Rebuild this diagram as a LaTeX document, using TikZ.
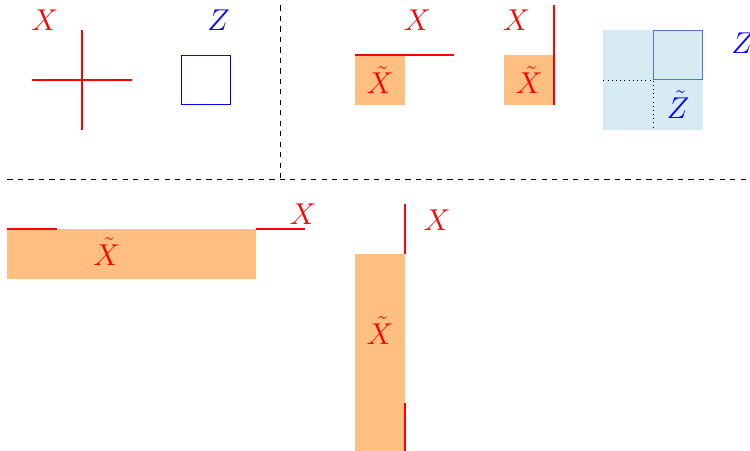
\documentclass[tikz,border=0pt]{standalone}
\usetikzlibrary{calc}
\definecolor{lblue}{RGB}{173,216,230}
\tikzset{lab/.style={font=\fontsize{19}{23}\selectfont},
  rlab/.style={lab, text=red},
  blab/.style={lab, text=blue},
  rline/.style={red, line width=1pt},
  tfill/.style={fill=orange!50},
  zfill/.style={fill=lblue, fill opacity=.5}}

\begin{document}
\begin{tikzpicture}
\useasboundingbox (-1.65,-7.45) rectangle (13.45,1.61);
\clip (-1.65,-7.45) rectangle (13.45,1.61);
% shaded parts
\fill[tfill] (5.5,-.5) rectangle (6.5,.5);
\fill[tfill] (8.5,-.5) rectangle (9.5,.5);
\fill[tfill] (-1.5,-3) rectangle (3.5,-4);
\fill[tfill] (5.5,-3.5) rectangle (6.5,-7.6);
% separators
\draw[black, dashed] (4,1.5)--(4,-2);
\draw[black, dashed] (-1.5,-2)--(13.6,-2);
% red lines
\draw[rline] (-1,0)--(1,0);
\draw[rline] (0,-1)--(0,1);
\draw[rline] (5.5,.5)--(7.5,.5);
\draw[rline] (9.5,1.5)--(9.5,-.5);
\draw[rline] (-1.5,-3)--(-.5,-3);
\draw[rline] (3.5,-3)--(4.5,-3);
\draw[rline] (6.5,-2.5)--(6.5,-3.5);
\draw[rline] (6.5,-6.5)--(6.5,-7.6);
\draw[blue, semithick] (2,-.5) rectangle (3,.5);
\draw[blue, semithick] (11.5,0) rectangle (12.5,1);
\fill[zfill] (10.5,-1) rectangle (12.5,1);
\draw[black, dotted] (10.5,0)--(11.5,0)--(11.5,-1);
% labels
\node[rlab] (x0) at (-.75,1.2) {$X$};
\node[blab] (z0) at (2.75,1.2) {$Z$};
\node[rlab] (x1) at (6.75,1.2) {$X$};
\node[rlab] (xt1) at (6,0) {$\tilde X$};
\node[rlab] (x2) at (8.75,1.2) {$X$};
\node[rlab] (xt2) at (9,0) {$\tilde X$};
\node[blab] (z3) at (13.3,.75) {$Z$};
\node[blab] (zt3) at (12,-.5) {$\tilde Z$};
\node[rlab] (x4) at (4.45,-2.7) {$X$};
\node[rlab] (xt4) at (.5,-3.45) {$\tilde X$};
\node[rlab] (x5) at (7.15,-2.82) {$X$};
\node[rlab] (xt5) at (6,-5.05) {$\tilde X$};

\end{tikzpicture}
\end{document}
